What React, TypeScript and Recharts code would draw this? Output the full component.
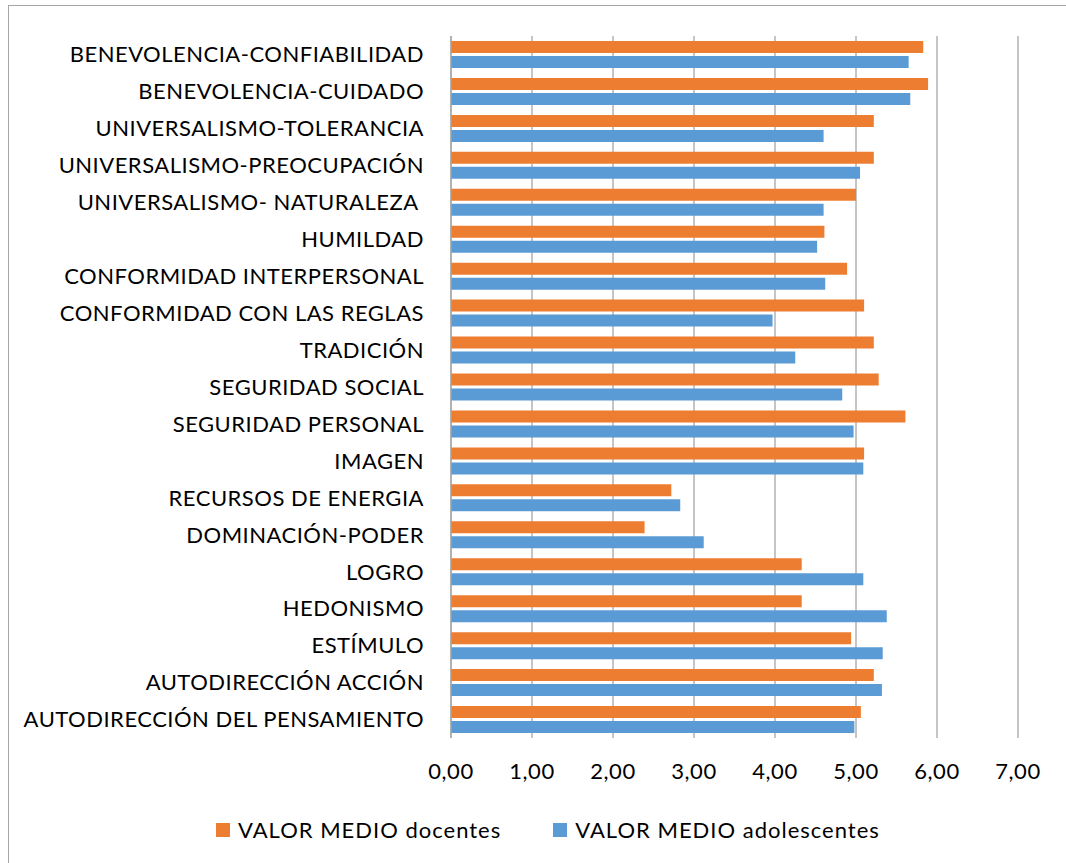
import React from "react";
import { BarChart, Bar, XAxis, YAxis, CartesianGrid, Legend } from "recharts";

const categories = [
  "BENEVOLENCIA-CONFIABILIDAD",
  "BENEVOLENCIA-CUIDADO",
  "UNIVERSALISMO-TOLERANCIA",
  "UNIVERSALISMO-PREOCUPACIÓN",
  "UNIVERSALISMO- NATURALEZA\u00A0",
  "HUMILDAD",
  "CONFORMIDAD INTERPERSONAL",
  "CONFORMIDAD CON LAS REGLAS",
  "TRADICIÓN",
  "SEGURIDAD SOCIAL",
  "SEGURIDAD PERSONAL",
  "IMAGEN",
  "RECURSOS DE ENERGIA",
  "DOMINACIÓN-PODER",
  "LOGRO",
  "HEDONISMO",
  "ESTÍMULO",
  "AUTODIRECCIÓN ACCIÓN",
  "AUTODIRECCIÓN DEL PENSAMIENTO",
];

const docentes = [
  5.83, 5.89, 5.22, 5.22, 5.0, 4.61, 4.89, 5.1, 5.22, 5.28, 5.61, 5.1, 2.72,
  2.39, 4.33, 4.33, 4.94, 5.22, 5.06,
];

const adolescentes = [
  5.65, 5.67, 4.6, 5.05, 4.6, 4.52, 4.62, 3.97, 4.25, 4.83, 4.97, 5.09, 2.83,
  3.12, 5.09, 5.38, 5.33, 5.32, 4.98,
];

const xTicks = [0, 1, 2, 3, 4, 5, 6, 7];

const seriesNames = ["VALOR MEDIO docentes", "VALOR MEDIO adolescentes"];
const seriesColors = ["#ED7D31", "#5B9BD5"];

const data = categories.map((name, i) => ({
  name,
  docentes: docentes[i],
  adolescentes: adolescentes[i],
}));

const FONT = "Lato, 'Open Sans', sans-serif";

const fmt = (v: number) => v.toFixed(2).replace(".", ",");

const LegendContent = () => (
  <div
    style={{
      display: "flex",
      alignItems: "center",
      fontFamily: FONT,
      fontSize: 22,
      letterSpacing: "1px",
      color: "#000",
      whiteSpace: "nowrap",
      lineHeight: "26px",
    }}
  >
    {seriesNames.map((n, i) => (
      <div
        key={n}
        style={{ display: "flex", alignItems: "center", marginRight: i === 0 ? 52 : 0 }}
      >
        <span
          style={{
            display: "inline-block",
            width: 14,
            height: 14,
            background: seriesColors[i],
            marginRight: 8,
          }}
        />
        <span>{n}</span>
      </div>
    ))}
  </div>
);

export default function App() {
  return (
    <>
      <style>{`body{overflow:hidden;}`}</style>
      <div
        style={{
          position: "absolute",
          left: 8,
          top: 5,
          width: 1070,
          height: 870,
          borderTop: "1.5px solid #a6a6a6",
          borderLeft: "1.5px solid #a6a6a6",
          background: "#fff",
        }}
      >
        <BarChart
          width={1058}
          height={858}
          data={data}
          layout="vertical"
          margin={{ top: 30, right: 49, left: 0, bottom: 66 }}
          barCategoryGap="13.5%"
          barGap={3}
        >
          <CartesianGrid
            horizontal={false}
            stroke="#a6a6a6"
            strokeWidth={1.3}
            strokeDasharray=""
          />
          <XAxis
            type="number"
            domain={[0, 7]}
            ticks={xTicks}
            tickFormatter={fmt}
            axisLine={false}
            tickLine={false}
            tickSize={25}
            tickMargin={0}
            height={60}
            interval={0}
            tick={{ fill: "#000", fontSize: 22, fontFamily: FONT, letterSpacing: "0.6px" }}
          />
          <YAxis
            type="category"
            dataKey="name"
            width={442}
            interval={0}
            axisLine={{ stroke: "#a6a6a6", strokeWidth: 1.3 }}
            tickLine={false}
            tickSize={27}
            tickMargin={0}
            tick={{ fill: "#000", fontSize: 22, fontFamily: FONT, letterSpacing: "0.5px" }}
          />
          <Legend
            verticalAlign="middle"
            layout="horizontal"
            content={<LegendContent />}
            wrapperStyle={{ left: 207, top: 811, width: "auto" }}
          />
          <Bar
            dataKey="docentes"
            name={seriesNames[0]}
            fill={seriesColors[0]}
            isAnimationActive={false}
          />
          <Bar
            dataKey="adolescentes"
            name={seriesNames[1]}
            fill={seriesColors[1]}
            isAnimationActive={false}
          />
        </BarChart>
      </div>
    </>
  );
}
